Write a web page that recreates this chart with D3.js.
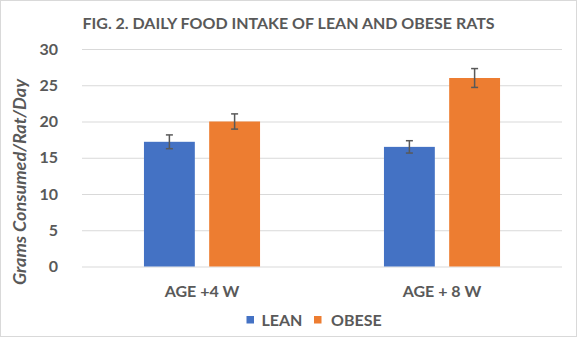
<!DOCTYPE html>
<html><head><meta charset="utf-8">
<script src="https://cdn.jsdelivr.net/npm/d3@7"></script>
<style>body{margin:0;background:#fff}svg{display:block}text{font-family:Lato,"Open Sans",sans-serif;fill:#595959;font-weight:bold}</style>
</head><body>
<script>
const categories = ["AGE +4 W", "AGE + 8 W"];
const seriesNames = ["LEAN", "OBESE"];
const lean = [17.2, 16.5];
const obese = [20.0, 26.0];
const leanErr = [0.95, 0.85];
const obeseErr = [1.05, 1.3];
const yTicks = [0, 5, 10, 15, 20, 25, 30];
const colors = ["#4472C4", "#ED7D31"];

const W = 577, H = 337;
const svg = d3.select("body").append("svg").attr("width", W).attr("height", H);
svg.append("rect").attr("x", 0.5).attr("y", 0.5).attr("width", W - 1).attr("height", H - 1)
  .attr("fill", "#fff").attr("stroke", "#d9d9d9");

const plot = {left: 82, right: 562, top: 49, bottom: 266.5};
const y = d3.scaleLinear().domain([0, 30]).range([plot.bottom, plot.top]);
const x0 = d3.scaleBand().domain(categories).range([plot.left, plot.right]).paddingInner(0).paddingOuter(0);
const x1 = d3.scaleBand().domain(seriesNames).range([0, x0.bandwidth()]).paddingInner(0.22).paddingOuter(0.95);

// gridlines
const yAxis = d3.axisLeft(y).tickValues(yTicks).tickSize(-(plot.right - plot.left)).tickPadding(24);
const ga = svg.append("g").attr("transform", `translate(${plot.left},0)`).call(yAxis);
ga.select(".domain").remove();
ga.selectAll(".tick line").attr("stroke", "#d9d9d9").attr("stroke-width", 1);
ga.selectAll(".tick text").style("font-size", "16px").attr("fill", "#595959");

const data = categories.map((c, i) => ({cat: c, vals: [
  {s: seriesNames[0], v: lean[i], e: leanErr[i]},
  {s: seriesNames[1], v: obese[i], e: obeseErr[i]}]}));

const groups = svg.append("g").selectAll("g").data(data).join("g")
  .attr("transform", d => `translate(${x0(d.cat)},0)`);
groups.selectAll("rect").data(d => d.vals).join("rect")
  .attr("x", d => x1(d.s)).attr("width", x1.bandwidth())
  .attr("y", d => y(d.v)).attr("height", d => y(0) - y(d.v))
  .attr("fill", (d, i) => colors[i]);

const eb = groups.selectAll("g.eb").data(d => d.vals).join("g").attr("class", "eb")
  .attr("stroke", "#595959").attr("stroke-width", 1.5);
const cx = d => x1(d.s) + x1.bandwidth() / 2;
eb.append("line").attr("x1", cx).attr("x2", cx)
  .attr("y1", d => y(d.v + d.e)).attr("y2", d => y(d.v - d.e));
eb.append("line").attr("x1", d => cx(d) - 3.5).attr("x2", d => cx(d) + 3.5)
  .attr("y1", d => y(d.v + d.e)).attr("y2", d => y(d.v + d.e));
eb.append("line").attr("x1", d => cx(d) - 3.5).attr("x2", d => cx(d) + 3.5)
  .attr("y1", d => y(d.v - d.e)).attr("y2", d => y(d.v - d.e));

// x labels
svg.append("g").selectAll("text").data(categories).join("text")
  .attr("x", d => x0(d) + x0.bandwidth() / 2).attr("y", 297).attr("text-anchor", "middle")
  .style("font-size", "16px").text(d => d);

// title
svg.append("text").attr("x", 82.5).attr("y", 28.5).attr("text-anchor", "start")
  .style("font-size", "15.5px").attr("textLength", 412).attr("lengthAdjust", "spacingAndGlyphs")
  .text("FIG. 2. DAILY FOOD INTAKE OF LEAN AND OBESE RATS");

// y title
svg.append("text").attr("transform", `translate(25.5,182) rotate(-90)`).attr("text-anchor", "middle")
  .style("font-size", "16.5px").style("font-style", "italic")
  .attr("textLength", 206).attr("lengthAdjust", "spacingAndGlyphs")
  .text("Grams Consumed/Rat/Day");

// legend
const leg = svg.append("g");
const legX = [246.5, 314];
const legTextX = [261.5, 331];
seriesNames.forEach((s, i) => {
  leg.append("rect").attr("x", legX[i]).attr("y", 316).attr("width", 7.5).attr("height", 7.5).attr("fill", colors[i]);
  leg.append("text").attr("x", legTextX[i]).attr("y", 325.5).style("font-size", "16px").text(s);
});
</script>
</body></html>
